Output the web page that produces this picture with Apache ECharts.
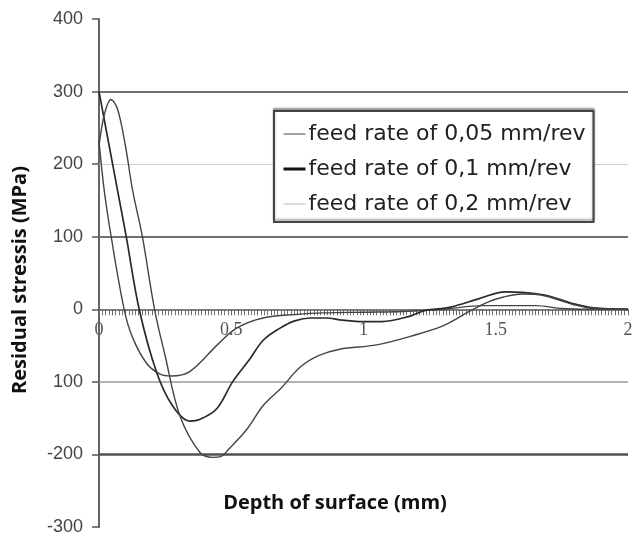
<!DOCTYPE html>
<html>
<head>
<meta charset="utf-8">
<script src="https://cdn.jsdelivr.net/npm/echarts@6/dist/echarts.min.js"></script>
<style>
html,body{margin:0;padding:0;background:#fff;}
#c{width:633px;height:537px;}
</style>
</head>
<body>
<div id="c"></div>
<script>
// ---- data ----
var seriesNames = ['feed rate of 0,05 mm/rev', 'feed rate of 0,1 mm/rev', 'feed rate of 0,2 mm/rev'];

var depthA  = [0, 0.019, 0.046, 0.095, 0.126, 0.179, 0.229, 0.274, 0.343, 0.45, 0.52, 0.62, 0.75, 0.85, 1.0, 1.15, 1.3, 1.45, 1.65, 1.75, 1.85, 2.0];
var stressA = [232, 166, 100, 0, -38, -74, -89, -92, -86, -48, -26, -12, -7, -5, -4, -3, 0, 5, 5, 1, 0, 0];

var depthB  = [0, 0.069, 0.103, 0.152, 0.217, 0.278, 0.343, 0.38, 0.445, 0.505, 0.571, 0.62, 0.68, 0.74, 0.8, 0.86, 0.92, 1.0, 1.07, 1.18, 1.23, 1.33, 1.44, 1.535, 1.68, 1.79, 1.87, 2.0];
var stressB = [300, 166, 100, 0, -86, -133, -154, -152, -137, -100, -68, -43, -27, -16, -12, -12, -15, -17, -17, -9, -2, 3, 15, 24, 20, 8, 2, 0];

var depthC  = [0, 0.02, 0.045, 0.07, 0.1, 0.126, 0.164, 0.21, 0.25, 0.305, 0.381, 0.43, 0.46, 0.49, 0.56, 0.62, 0.69, 0.76, 0.83, 0.91, 1.05, 1.18, 1.3, 1.4, 1.47, 1.53, 1.6, 1.68, 1.79, 1.87, 2.0];
var stressC = [225, 268, 289, 276, 225, 166, 100, 0, -64, -146, -197, -204, -203, -193, -165, -133, -108, -80, -64, -55, -49, -37, -23, -3, 10, 17, 21, 19, 7, 1, 0];

var yTickValues = [-300, -200, -100, 0, 100, 200, 300, 400];
var yTickLabels = ['-300', '-200', '100', '0', '100', '200', '300', '400'];
var xTickValues = [0, 0.5, 1, 1.5, 2];
var xTickLabels = ['0', '0.5', '1', '1.5', '2'];
var gridLineValues = [300, 200, 100, -100, -200];

// ---- styles ----
var gridLineStyles = [
  {color: '#707070', width: 2.2, type: 'solid'},
  {color: '#d0d0d0', width: 1, type: 'solid'},
  {color: '#707070', width: 2.2, type: 'solid'},
  {color: '#9a9a9a', width: 1.6, type: 'solid'},
  {color: '#505050', width: 2.6, type: 'solid'}
];
var curveStyles = [
  {color: '#444', width: 1.4},
  {color: '#2a2a2a', width: 1.7},
  {color: '#444', width: 1.4}
];
var legendLineStyles = [
  {color: '#666', width: 1.2},
  {color: '#111', width: 3},
  {color: '#c4c4c4', width: 1.2}
];

var GRID_TOP = 19, GRID_BOTTOM = 10, H = 537;
var Y_MIN = -300, Y_MAX = 400;

function pairs(xs, ys) {
  return xs.map(function (x, i) { return [x, ys[i]]; });
}
function labelFor(values, labels, v) {
  for (var i = 0; i < values.length; i++) {
    if (Math.abs(values[i] - v) < 1e-6) return labels[i];
  }
  return '';
}

var plotH = H - GRID_TOP - GRID_BOTTOM;
var zeroPx = GRID_TOP + plotH * Y_MAX / (Y_MAX - Y_MIN);
var xAxisOffset = zeroPx - (H - GRID_BOTTOM);

var depths = [depthA, depthB, depthC];
var stresses = [stressA, stressB, stressC];

var series = [{
  type: 'line',
  name: 'grid',
  data: [],
  z: 1,
  silent: true,
  markLine: {
    silent: true,
    z: 1,
    symbol: 'none',
    label: {show: false},
    data: gridLineValues.map(function (v, i) {
      return {yAxis: v, lineStyle: gridLineStyles[i]};
    })
  }
}];
for (var s = 0; s < 3; s++) {
  series.push({
    type: 'line',
    name: seriesNames[s],
    data: pairs(depths[s], stresses[s]),
    smooth: 0.35,
    symbol: 'none',
    z: 3,
    lineStyle: curveStyles[s],
    itemStyle: {color: curveStyles[s].color}
  });
}

var chart = echarts.init(document.getElementById('c'), null, {renderer: 'canvas'});
chart.setOption({
  animation: false,
  backgroundColor: '#fff',
  grid: {left: 99, right: 5, top: GRID_TOP, bottom: GRID_BOTTOM, outerBoundsMode: 'none', containLabel: false},
  legend: {
    orient: 'vertical',
    left: 274,
    top: 111,
    padding: [12, 8, 7, 8],
    itemGap: 13,
    itemWidth: 22,
    itemHeight: 14,
    backgroundColor: '#fff',
    borderColor: '#444',
    borderWidth: 2,
    shadowColor: 'rgba(0,0,0,0.35)',
    shadowOffsetY: -2,
    shadowBlur: 2,
    z: 10,
    textStyle: {fontFamily: 'DejaVu Sans, sans-serif', fontSize: 22, color: '#222', padding: [0, 0, 0, -2]},
    data: seriesNames.map(function (n, i) {
      return {name: n, itemStyle: {opacity: 0}, lineStyle: legendLineStyles[i]};
    })
  },
  xAxis: {
    type: 'value',
    min: 0,
    max: 2,
    interval: 0.05,
    position: 'bottom',
    offset: xAxisOffset,
    axisLine: {show: true, onZero: false, lineStyle: {color: '#555', width: 1.6}},
    axisTick: {show: true, length: 6, lineStyle: {color: '#666', width: 1}},
    minorTick: {show: true, splitNumber: 4, length: 6, lineStyle: {color: '#707070', width: 1}},
    splitLine: {show: false},
    axisLabel: {
      show: true,
      margin: 12,
      fontFamily: 'Liberation Serif, Times New Roman, serif',
      fontSize: 18,
      color: '#555',
      showMaxLabel: true,
      showMinLabel: true,
      hideOverlap: false,
      formatter: function (v) { return labelFor(xTickValues, xTickLabels, v); }
    }
  },
  yAxis: {
    type: 'value',
    min: Y_MIN,
    max: Y_MAX,
    interval: 100,
    axisLine: {show: true, lineStyle: {color: '#555', width: 1.8}},
    axisTick: {show: true, length: 7, lineStyle: {color: '#555', width: 1.5}},
    splitLine: {show: false},
    axisLabel: {
      margin: 16,
      fontFamily: 'Liberation Sans, Arial, sans-serif',
      fontSize: 18,
      color: '#444',
      formatter: function (v) { return labelFor(yTickValues, yTickLabels, v); }
    }
  },
  graphic: [
    {
      type: 'text',
      x: 20,
      y: 280,
      rotation: Math.PI / 2,
      style: {
        text: 'Residual stressis (MPa)',
        font: 'bold 20px "Open Sans", sans-serif',
        fill: '#111',
        textAlign: 'center',
        textVerticalAlign: 'middle'
      }
    },
    {
      type: 'text',
      x: 335,
      y: 503,
      style: {
        text: 'Depth of surface (mm)',
        font: 'bold 20px "Open Sans", sans-serif',
        fill: '#111',
        textAlign: 'center',
        textVerticalAlign: 'middle'
      }
    }
  ],
  series: series
});
</script>
</body>
</html>
